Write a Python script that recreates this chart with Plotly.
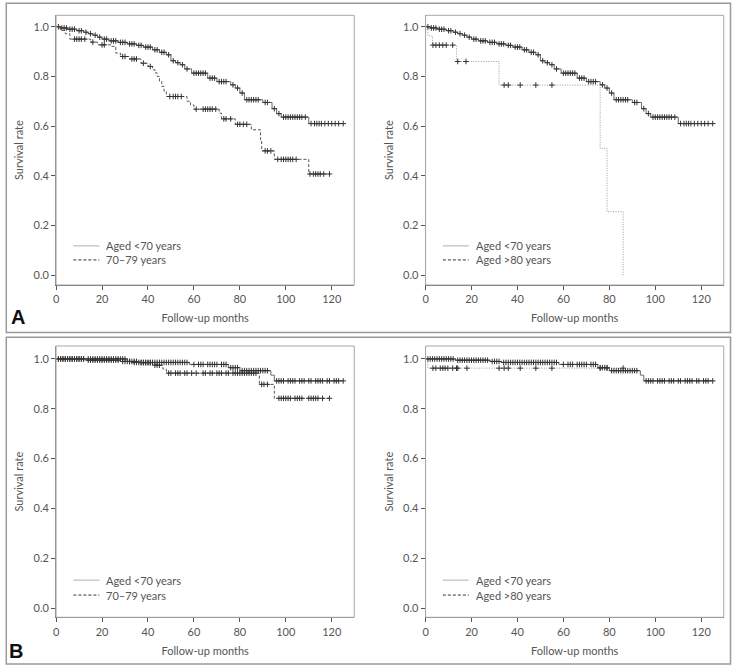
import plotly.graph_objects as go

# ---- data ----
# A: overall survival, aged <70 (solid)
a_lt70_times = [2, 5, 9, 12, 14, 16, 18, 20, 23, 27, 31, 35, 38, 42, 45, 48, 50, 52, 54, 56,
                59, 66, 70, 76, 78, 80, 82, 90, 94, 96, 98, 110]
a_lt70_surv = [0.995, 0.99, 0.984, 0.978, 0.972, 0.966, 0.958, 0.95, 0.943, 0.937, 0.931,
               0.925, 0.918, 0.907, 0.897, 0.887, 0.863, 0.855, 0.847, 0.83, 0.813, 0.793,
               0.779, 0.766, 0.753, 0.733, 0.706, 0.695, 0.67, 0.65, 0.636, 0.61]
a_lt70_cens = [1, 2.5, 3.5, 4.5, 6, 7, 8, 10, 11, 13, 15, 17, 19, 21, 22, 24, 25, 26, 28, 29,
               30, 32, 33, 34, 36, 37, 39, 40, 41, 43, 44, 46, 47, 49, 51, 53, 55, 57, 60, 61,
               62, 63, 64, 65, 67, 68, 69, 71, 72, 73, 74, 77, 79, 81, 83, 84, 85, 86, 87, 88,
               91, 92, 95, 97, 99, 100, 101, 102, 103, 104, 105, 106, 107, 108.5, 111, 112.5,
               113.5, 114.5, 115.5, 117, 118.5, 120, 121.5, 123, 125]

# A: aged 70-79 (dashed)
a_7079_times = [2, 4, 6, 15, 18, 24, 26, 28, 32, 37, 40, 42, 43, 44, 45, 46, 47, 48, 57, 58.5,
                60, 71, 72, 78, 85, 89, 89.5, 95, 110]
a_7079_surv = [0.985, 0.972, 0.95, 0.938, 0.927, 0.921, 0.894, 0.88, 0.87, 0.853, 0.84, 0.827,
               0.814, 0.80, 0.78, 0.76, 0.74, 0.719, 0.70, 0.685, 0.668, 0.652, 0.629, 0.607,
               0.585, 0.545, 0.50, 0.466, 0.407]
a_7079_cens = [8, 9, 10, 11, 12.5, 16, 20, 21, 29, 30, 33, 34, 35, 38, 41, 49.5, 51, 52, 53,
               54.5, 61, 64, 65, 66, 67, 68, 69.5, 73, 74, 76, 79, 80, 81.5, 83, 91, 92, 93.5,
               96.5, 98, 99, 100, 101, 102, 103, 104.5, 110.5, 112, 113, 114, 115, 116.5, 119]

# A: aged >80 (dotted)
a_gt80_times = [1, 3, 13.5, 32, 76, 79, 86]
a_gt80_surv = [0.963, 0.926, 0.86, 0.765, 0.51, 0.255, 0.0]
a_gt80_cens = [3.2, 4.5, 6, 7.5, 9, 11.8, 14, 17.6, 34.2, 36, 41.2, 48, 55]

# B: aged <70 (solid)
b_lt70_times = [13, 28, 33, 58, 75, 80, 93.5, 95]
b_lt70_surv = [0.995, 0.99, 0.986, 0.978, 0.965, 0.953, 0.935, 0.912]
b_lt70_cens = [1, 2, 3, 4, 5, 6, 7, 8, 9, 10, 11, 12, 14, 15, 16, 17, 18, 19, 20, 21, 22, 23,
               24, 25, 26, 27, 29, 30, 31, 32, 34, 35, 36, 37, 38, 39, 40, 41, 42, 43, 44, 45,
               46, 47, 48, 49, 50, 51, 52, 53, 54, 55, 56, 57, 60, 62, 63, 64, 66, 67, 68, 69,
               70, 72, 73, 74, 76, 77, 78, 79, 81, 82, 83, 84, 85, 86, 87, 88, 89, 90, 91, 92,
               96, 97, 98, 99, 101, 102, 103, 104, 106, 107, 108, 110, 111, 113, 114, 115, 116,
               118, 119, 121, 122, 123, 125]

# B: aged 70-79 (dashed)
b_7079_times = [31, 36, 42, 46.5, 48, 88.5, 95]
b_7079_surv = [0.99, 0.985, 0.975, 0.96, 0.943, 0.898, 0.842]
b_7079_cens = [1, 2, 3, 4, 5, 6, 7, 8, 9, 10, 11, 12, 14, 15, 16, 17, 18, 19, 20, 21, 22, 23,
               24, 25, 26, 27, 28, 29, 30, 32, 33, 34, 35, 37, 38, 39, 40, 41, 43, 44, 45, 49,
               50, 52, 53, 54, 56, 57, 59, 61, 64, 65, 67, 68, 70, 71, 72, 74, 75, 77, 78, 79,
               80, 81, 82, 83, 84, 85, 86, 87, 89.5, 90.5, 92, 97, 98, 99, 100, 101, 102, 104,
               105, 106, 107, 110, 111, 112, 113, 114, 116, 119]

# B: aged >80 (dotted)
b_gt80_times = [1]
b_gt80_surv = [0.963]
b_gt80_cens = [3.2, 4.5, 6.4, 7.5, 8.5, 9.7, 11.8, 13.5, 14, 18, 32, 34.2, 36, 41.2, 48, 55,
               76, 79, 86]

x_ticks = [0, 20, 40, 60, 80, 100, 120]
y_ticks = [0.0, 0.2, 0.4, 0.6, 0.8, 1.0]
legend_top = "Aged &lt;70 years"
legend_bottom = ["70\u201379 years", "Aged &gt;80 years"]

W, H = 734, 668
FONT = "Lato, 'Open Sans', sans-serif"
TXT = "#555555"


def px_x(p):
    return p / W


def px_y(p):
    return 1 - p / H


def surv_at(times, surv, t):
    s = 1.0
    for ti, si in zip(times, surv):
        if ti <= t:
            s = si
    return s


panels = [
    # axis suffix, x px range, y px range, y range, curves, legend label
    ("", (53.3, 352.7), (15.3, 285), [-0.040, 1.046],
     (a_lt70_times, a_lt70_surv, a_lt70_cens), (a_7079_times, a_7079_surv, a_7079_cens),
     "dash", legend_bottom[0]),
    ("2", (424.3, 723.7), (15.3, 285), [-0.040, 1.046],
     (a_lt70_times, a_lt70_surv, a_lt70_cens), (a_gt80_times, a_gt80_surv, a_gt80_cens),
     "dot", legend_bottom[1]),
    ("3", (53.3, 352.7), (346, 617.3), [-0.037, 1.052],
     (b_lt70_times, b_lt70_surv, b_lt70_cens), (b_7079_times, b_7079_surv, b_7079_cens),
     "dash", legend_bottom[0]),
    ("4", (424.3, 723.7), (346, 617.3), [-0.037, 1.052],
     (b_lt70_times, b_lt70_surv, b_lt70_cens), (b_gt80_times, b_gt80_surv, b_gt80_cens),
     "dot", legend_bottom[1]),
]

fig = go.Figure()
shapes = []
annotations = []

for suf, xpx, ypx, yr, solid, other, style, lab2 in panels:
    xa, ya = "x" + suf, "y" + suf
    curves = [(other, style), (solid, "solid")]
    for (times, surv, cens), dash in curves:
        end = max(times + cens)
        if dash == "dot":
            lcol, lw, dpat = "#9a9a9a", 1, "1px,1.5px"
        elif dash == "dash":
            lcol, lw, dpat = "#555555", 1, "3px,2px"
        else:
            lcol, lw, dpat = "#6a6a6a", 1, "solid"
        fig.add_trace(go.Scatter(
            x=[0] + times + [end], y=[1.0] + surv + [surv[-1]],
            mode="lines", line=dict(shape="hv", color=lcol, width=lw, dash=dpat),
            xaxis=xa, yaxis=ya, showlegend=False, hoverinfo="skip"))
        fig.add_trace(go.Scatter(
            x=cens, y=[surv_at(times, surv, c) for c in cens],
            mode="markers",
            marker=dict(symbol="cross-thin", size=4,
                        line=dict(width=1, color="#333333")),
            xaxis=xa, yaxis=ya, showlegend=False, hoverinfo="skip"))

    key = "" if suf == "" else suf
    fig.layout["xaxis" + key] = dict(
        domain=[px_x(xpx[0]), px_x(xpx[1])], anchor=ya, range=[0, 129.8],
        tickvals=x_ticks, ticks="outside", ticklen=4, tickcolor="#555", tickwidth=1,
        showline=True, linecolor="#666", linewidth=1, showgrid=False, zeroline=False,
        tickfont=dict(family=FONT, size=11, color=TXT),
        title=dict(text="Follow-up months", standoff=10,
                   font=dict(family=FONT, size=11, color=TXT)))
    fig.layout["yaxis" + key] = dict(
        domain=[px_y(ypx[1]), px_y(ypx[0])], anchor=xa, range=yr,
        tickvals=y_ticks, tickformat=".1f", ticks="outside", ticklen=4, tickcolor="#555",
        tickwidth=1, showline=True, linecolor="#888", linewidth=1, showgrid=False,
        zeroline=False, tickfont=dict(family=FONT, size=11, color=TXT),
        title=dict(text="Survival rate", standoff=7,
                   font=dict(family=FONT, size=11, color=TXT)))

    # plot frame
    shapes.append(dict(type="rect", xref=xa + " domain", yref=ya + " domain",
                       x0=0, x1=1, y0=0, y1=1, line=dict(color="#a8a8a8", width=1)))

    # legend
    top = suf in ("", "2")
    ly = [0.145, 0.093] if top else [0.137, 0.082]
    shapes.append(dict(type="line", xref=xa + " domain", yref=ya + " domain",
                       x0=0.058, x1=0.145, y0=ly[0], y1=ly[0],
                       line=dict(color="#b0b0b0", width=1)))
    shapes.append(dict(type="line", xref=xa + " domain", yref=ya + " domain",
                       x0=0.058, x1=0.145, y0=ly[1], y1=ly[1],
                       line=dict(color="#333", width=1, dash="3px,2px")))
    for yy, txt in zip(ly, [legend_top, lab2]):
        annotations.append(dict(xref=xa + " domain", yref=ya + " domain", x=0.162, y=yy,
                                text=txt, showarrow=False, xanchor="left", yanchor="middle",
                                font=dict(family=FONT, size=11, color=TXT)))

# outer boxes
for y0, y1 in [(3.3, 332.5), (337.3, 664)]:
    shapes.append(dict(type="rect", xref="paper", yref="paper",
                       x0=px_x(3.3), x1=px_x(730.5), y0=px_y(y1), y1=px_y(y0),
                       line=dict(color="#9a9a9a", width=1.5)))

for letter, (lx, ly) in zip(["A", "B"], [(15, 317), (13, 651)]):
    annotations.append(dict(xref="paper", yref="paper", x=px_x(lx), y=px_y(ly),
                            text="<b>" + letter + "</b>", showarrow=False,
                            xanchor="center", yanchor="middle",
                            font=dict(family="Liberation Sans, Arial, sans-serif", size=20,
                                      color="#111")))

fig.update_layout(
    width=W, height=H, margin=dict(l=0, r=0, t=0, b=0),
    paper_bgcolor="white", plot_bgcolor="white",
    shapes=shapes, annotations=annotations, showlegend=False,
)

# the page's default body margin would shift the chart; remove it
fig.write_html("out.html", config={"displayModeBar": False},
               post_script="document.body.style.margin='0';")
